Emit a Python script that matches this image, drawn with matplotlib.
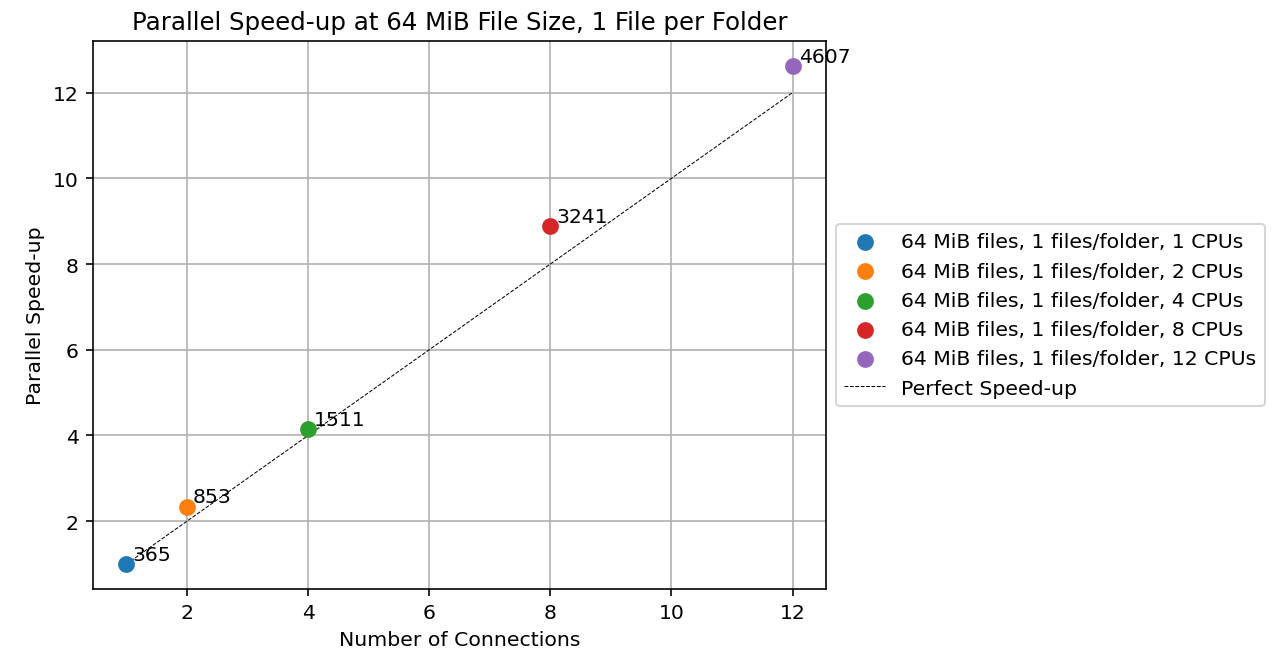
import matplotlib
matplotlib.use('Agg')
import matplotlib.pyplot as plt

# Throughput per run (labels on the points) and the CPU / connection counts
cpus = [1, 2, 4, 8, 12]
throughput = [365, 853, 1511, 3241, 4607]
colors = ['tab:blue', 'tab:orange', 'tab:green', 'tab:red', 'tab:purple']

# speed-up relative to the single connection run
speedup = [t / throughput[0] for t in throughput]

DPI = 147
fig = plt.figure(figsize=(1276 / DPI, 652 / DPI), dpi=DPI)
ax = fig.add_axes([0.0729, 0.0951, 0.5744, 0.8405])

for n, s, t, c in zip(cpus, speedup, throughput, colors):
    ax.scatter(n, s, color=c, s=52, zorder=3,
               label=f'64 MiB files, 1 files/folder, {n} CPUs')
    ax.text(n + 0.1, s + 0.1, str(t))

ax.plot([cpus[0], cpus[-1]], [cpus[0], cpus[-1]], linestyle='--', color='black',
        linewidth=0.5, label='Perfect Speed-up')

ax.set_xlabel('Number of Connections')
ax.set_ylabel('Parallel Speed-up')
ax.set_title('Parallel Speed-up at 64 MiB File Size, 1 File per Folder')
ax.grid(True)
ax.legend(loc='center left', bbox_to_anchor=(1, 0.5))

fig.savefig('out.png', dpi=DPI)
